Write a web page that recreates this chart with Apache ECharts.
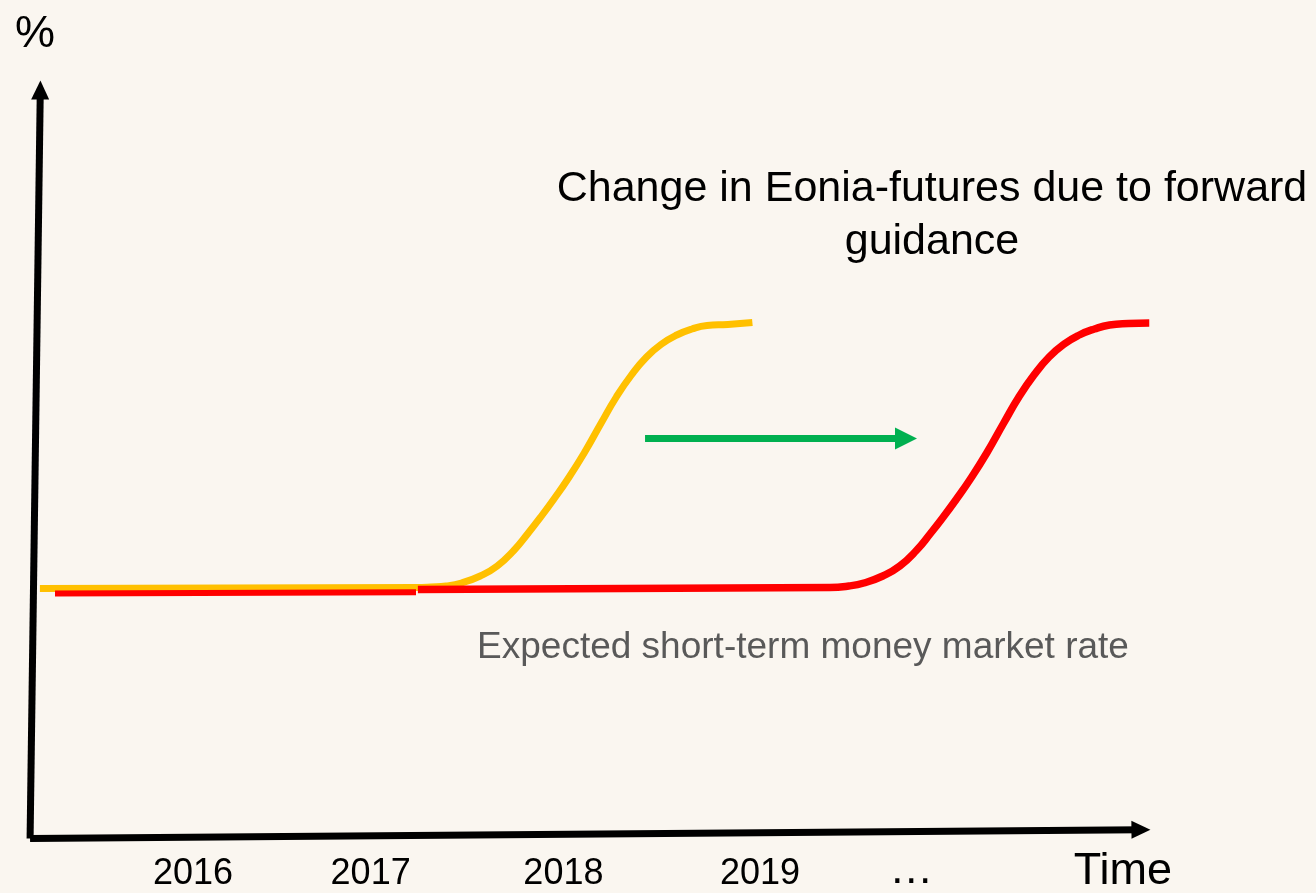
<!DOCTYPE html>
<html>
<head>
<meta charset="utf-8">
<title>Eonia futures and forward guidance</title>
<script src="https://cdn.jsdelivr.net/npm/echarts@6/dist/echarts.min.js"></script>
<style>
  html, body { margin: 0; padding: 0; background: #faf6f0; }
  #chart { width: 1316px; height: 893px; }
</style>
</head>
<body>
<div id="chart"></div>
<script>
// time in years, rate in arbitrary % units (schematic chart)
var tickPos = [2016, 2016.94, 2017.96, 2019, 2019.8];
var tickLabels = ["2016", "2017", "2018", "2019", "…"];

// expected path before forward guidance (yellow)
var futuresBefore = [
  [2015.19, 24.45], [2017.18, 24.55], [2017.26, 24.6], [2017.34, 24.7],
  [2017.42, 25.0], [2017.52, 25.7], [2017.61, 26.7], [2017.70, 28.3],
  [2017.77, 29.9], [2017.84, 31.6], [2017.91, 33.4], [2017.98, 35.3],
  [2018.07, 38.0], [2018.16, 41.0], [2018.24, 43.6], [2018.32, 45.8],
  [2018.40, 47.6], [2018.48, 48.9], [2018.56, 49.8], [2018.64, 50.4],
  [2018.72, 50.75], [2018.83, 50.85], [2018.96, 51.05]
];

// expected path after forward guidance (red)
var futuresAfterStart = [[2015.27, 23.95], [2017.18, 24.07]];
var futuresAfter = [
  [2017.19, 24.35], [2019.37, 24.55], [2019.47, 24.7], [2019.55, 25.0],
  [2019.65, 25.7], [2019.74, 26.7], [2019.83, 28.3], [2019.90, 29.9],
  [2019.97, 31.6], [2020.04, 33.4], [2020.11, 35.3], [2020.20, 38.0],
  [2020.29, 41.0], [2020.37, 43.6], [2020.45, 45.8], [2020.53, 47.6],
  [2020.61, 48.9], [2020.69, 49.8], [2020.77, 50.4], [2020.85, 50.8],
  [2020.95, 50.95], [2021.06, 51.0]
];

var FONT = "'Liberation Sans', Arial, sans-serif";

var chart = echarts.init(document.getElementById("chart"));

var arrowLine = function (from, to, color, width, size) {
  return {
    silent: true,
    animation: false,
    symbol: ["none", "triangle"],
    symbolSize: size,
    label: { show: false },
    lineStyle: { color: color, width: width, type: "solid", opacity: 1 },
    emphasis: { disabled: true },
    data: [[{ coord: from }, { coord: to }]]
  };
};

var option = {
  backgroundColor: "#faf6f0",
  animation: false,
  grid: { left: 4, right: 8, top: 0, bottom: 0 },
  xAxis: { type: "value", min: 2015, max: 2021.9, show: false },
  yAxis: { type: "value", min: -6, max: 83.3, show: false },
  graphic: [
    {
      type: "text",
      style: {
        text: "%", x: 35, y: 35, textAlign: "center", textVerticalAlign: "middle",
        font: "45px " + FONT, fill: "#000"
      }
    },
    {
      type: "text",
      style: {
        text: "Change in Eonia-futures due to forward\nguidance",
        x: 932, y: 163, textAlign: "center", textVerticalAlign: "top",
        font: "43px " + FONT, lineHeight: 53, fill: "#000"
      }
    },
    {
      type: "text",
      style: {
        text: "Expected short-term money market rate",
        x: 803, y: 648, textAlign: "center", textVerticalAlign: "middle",
        font: "37px " + FONT, fill: "#595959"
      }
    }
  ],
  series: [
    {
      // axes drawn as slightly tilted arrows
      type: "line",
      data: [],
      markLine: arrowLine([2015.138, -0.55], [2015.192, 74.3], "#000", 7, [18, 19])
    },
    {
      type: "line",
      data: [],
      markLine: arrowLine([2015.138, -0.55], [2021.016, 0.32], "#000", 7, [18, 19])
    },
    {
      type: "line",
      data: [],
      markLine: arrowLine([2018.392, 39.45], [2019.773, 39.45], "#00b050", 7, [22, 22])
    },
    {
      name: "before",
      type: "line",
      data: futuresBefore,
      smooth: 0.5,
      showSymbol: false,
      lineStyle: { color: "#ffc000", width: 7 }
    },
    {
      type: "line",
      data: futuresAfterStart,
      showSymbol: false,
      lineStyle: { color: "#ff0000", width: 6 }
    },
    {
      name: "after",
      type: "line",
      data: futuresAfter,
      smooth: 0.5,
      showSymbol: false,
      lineStyle: { color: "#ff0000", width: 7.5 }
    },
    {
      type: "scatter",
      symbolSize: 0,
      silent: true,
      itemStyle: { opacity: 1 },
      data: tickPos.map(function (t, i) {
        var item = { value: [t, -4.1], name: tickLabels[i] };
        if (tickLabels[i] === "…") {
          item.value = [t, -3.8];
          item.label = { fontSize: 44 };
        }
        return item;
      }).concat([{ value: [2020.92, -3.85], name: "Time", label: { fontSize: 45 } }]),
      label: {
        show: true,
        position: "inside",
        formatter: "{b}",
        color: "#000",
        opacity: 1,
        textBorderWidth: 0,
        fontSize: 36,
        fontFamily: FONT
      }
    }
  ]
};

option && chart.setOption(option);
</script>
</body>
</html>
